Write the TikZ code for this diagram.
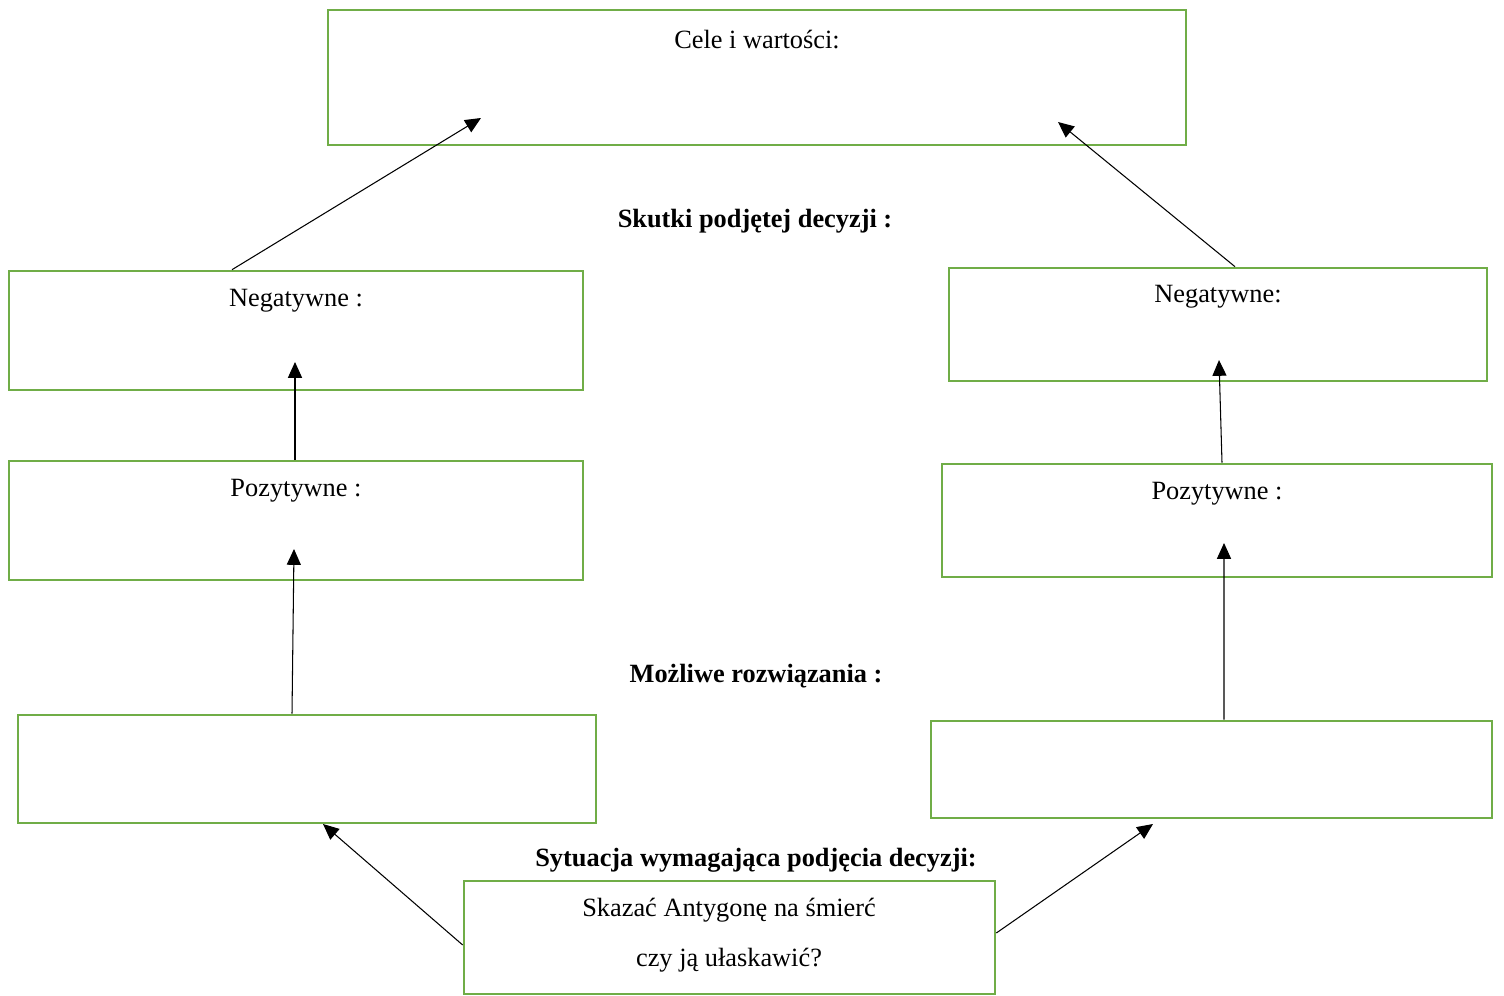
\documentclass[tikz,border=0pt]{standalone}
\usepackage{fontspec}
\setmainfont{Liberation Serif}
\usetikzlibrary{arrows.meta,fit}
\definecolor{boxgreen}{RGB}{112,173,71}

\begin{document}
\begin{tikzpicture}[x=0.02cm,y=-0.02cm,>={Triangle[length=9pt,width=8pt]},
    box/.style={draw=boxgreen,line width=1.5pt,inner sep=0pt},
    txt/.style={font=\fontsize{15}{18}\selectfont,inner sep=0pt},
    head/.style={txt,font=\fontsize{15}{18}\selectfont\bfseries}]
    \useasboundingbox (0,0) rectangle (1504,996);
    % ramki
    \node[box,fit={(328,10) (1186,145)}] (1) {};
    \node[box,fit={(9,271) (583,390)}] (2) {};
    \node[box,fit={(949,268) (1487,381)}] (3) {};
    \node[box,fit={(9,461) (583,580)}] (4) {};
    \node[box,fit={(942,464) (1492,577)}] (5) {};
    \node[box,fit={(18,715) (596,823)}] (6) {};
    \node[box,fit={(931,721) (1492,818)}] (7) {};
    \node[box,fit={(464,881) (995,994)}] (8) {};
    % napisy
    \node[txt] (c1) at (757,40) {Cele i wartości:};
    \node[txt] (c2) at (296,301) {Negatywne :};
    \node[txt] (c3) at (1218,297) {Negatywne:};
    \node[txt] (c4) at (296,491) {Pozytywne :};
    \node[txt] (c5) at (1217,494) {Pozytywne :};
    \node[txt] (c8) at (729,910) {Skazać Antygonę na śmierć};
    \node[txt] (c9) at (729,960) {czy ją ułaskawić?};
    \node[head] (h1) at (755,221) {Skutki podjętej decyzji :};
    \node[head] (h2) at (756,676) {Możliwe rozwiązania :};
    \node[head] (h3) at (756,860) {Sytuacja wymagająca podjęcia decyzji:};
    % groty
    \coordinate (a1) at (481,118);
    \coordinate (a2) at (1058,122);
    \coordinate (a3) at (295,362);
    \coordinate (a4) at (1219,360);
    \coordinate (a5) at (294,549);
    \coordinate (a6) at (1224,543);
    \coordinate (a7) at (323,824);
    \coordinate (a8) at (1153,824);
    \path[every edge/.style={draw=black,->,line width=0.6pt}]
    ([xshift=-1.28cm]2.north) edge (a1)
    ([xshift=0.34cm]3.north) edge (a2)
    ([xshift=-0.02cm]4.north) edge (a3)
    ([xshift=0.1cm]5.north) edge (a4)
    ([xshift=-0.3cm]6.north) edge (a5)
    ([xshift=0.25cm]7.north) edge (a6)
    ([yshift=-0.15cm]8.west) edge (a7)
    ([yshift=0.09cm]8.east) edge (a8);
\end{tikzpicture}
\end{document}
